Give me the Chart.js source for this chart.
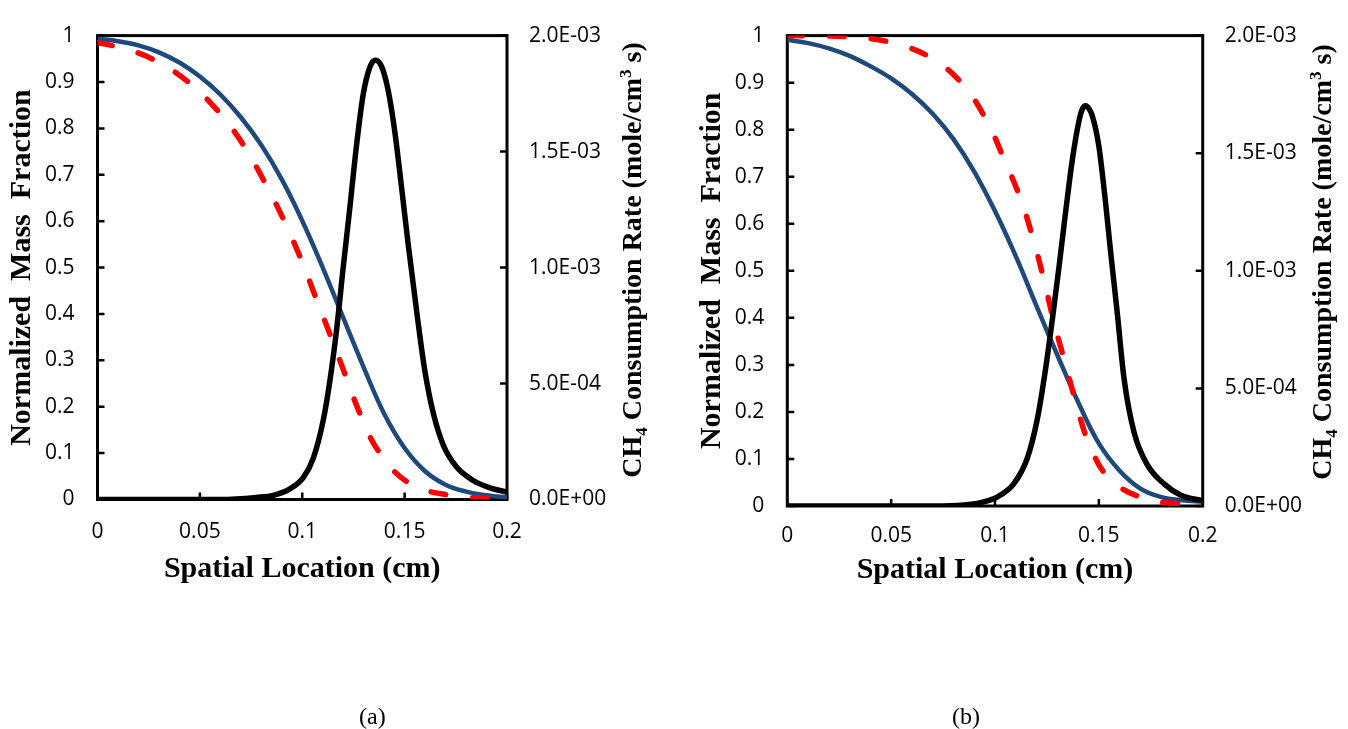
<!DOCTYPE html>
<html>
<head>
<meta charset="utf-8">
<title>Mass fraction and CH4 consumption profiles</title>
<script src="https://cdn.jsdelivr.net/npm/chart.js@4.4.0/dist/chart.umd.min.js"></script>
<style>
  body { margin: 0; width: 1348px; height: 729px; background: #fff; position: relative; overflow: hidden; }
  .panel { position: absolute; top: 0; width: 674px; height: 729px; }
  .caption { position: absolute; top: 702px; font: 24px/28px 'Liberation Serif', 'Times New Roman', serif; color: #000; }
</style>
</head>
<body>
<div class="panel" style="left:0"><canvas id="chartA" width="674" height="729"></canvas></div>
<div class="panel" style="left:674px"><canvas id="chartB" width="674" height="729"></canvas></div>
<div class="caption" style="left:359px">(a)</div>
<div class="caption" style="left:952px">(b)</div>
<script>
// ---- case (a) ----
const aBlueX = [0, 0.01, 0.02, 0.03, 0.04, 0.05, 0.06, 0.07, 0.08, 0.09, 0.1, 0.11, 0.12, 0.13, 0.14, 0.15, 0.16, 0.17, 0.18, 0.19, 0.2];
const aBlueY = [0.993, 0.988, 0.979, 0.964, 0.942, 0.912, 0.873, 0.824, 0.764, 0.690, 0.601, 0.500, 0.392, 0.285, 0.185, 0.111, 0.061, 0.032, 0.017, 0.009, 0.0045];

const aRedX = [0, 0.0102, 0.0256, 0.0435, 0.0587, 0.071, 0.0813, 0.0907, 0.0997, 0.1062, 0.1138, 0.121, 0.1285, 0.1376, 0.152, 0.172, 0.193, 0.2];
const aRedY = [0.985, 0.975, 0.952, 0.903, 0.838, 0.766, 0.687, 0.605, 0.515, 0.440, 0.353, 0.269, 0.182, 0.102, 0.036, 0.009, 0.002, 0.001];

const aRateX = [0, 0.06, 0.0777, 0.0859, 0.094, 0.1005, 0.1054, 0.1103, 0.1135, 0.1168, 0.12, 0.1233, 0.1265, 0.1298, 0.1331, 0.1358, 0.1388, 0.142, 0.1453, 0.1485, 0.1518, 0.1566, 0.1599, 0.164, 0.1689, 0.1754, 0.1835, 0.1917, 0.2];
const aRateY = [0, 0, 0.009e-3, 0.018e-3, 0.046e-3, 0.094e-3, 0.178e-3, 0.344e-3, 0.512e-3, 0.734e-3, 1.0e-3, 1.262e-3, 1.526e-3, 1.748e-3, 1.866e-3, 1.894e-3, 1.866e-3, 1.762e-3, 1.58e-3, 1.346e-3, 1.096e-3, 0.762e-3, 0.554e-3, 0.372e-3, 0.234e-3, 0.14e-3, 0.082e-3, 0.05e-3, 0.032e-3];

// ---- case (b) ----
const bBlueX = [0, 0.01, 0.02, 0.03, 0.04, 0.05, 0.06, 0.07, 0.08, 0.09, 0.1, 0.11, 0.12, 0.13, 0.14, 0.15, 0.16, 0.17, 0.18, 0.19, 0.2];
const bBlueY = [0.991, 0.984, 0.973, 0.957, 0.935, 0.909, 0.876, 0.834, 0.780, 0.711, 0.627, 0.531, 0.425, 0.321, 0.221, 0.133, 0.075, 0.037, 0.019, 0.012, 0.009];

const bRedX = [0, 0.015, 0.03, 0.0495, 0.0695, 0.0849, 0.0962, 0.1045, 0.1122, 0.1183, 0.1237, 0.1283, 0.1335, 0.1388, 0.145, 0.155, 0.1727, 0.194, 0.2];
const bRedY = [1.0, 0.9995, 0.997, 0.986, 0.952, 0.894, 0.817, 0.736, 0.654, 0.569, 0.478, 0.392, 0.308, 0.223, 0.136, 0.059, 0.015, 0.003, 0.001];

const bRateX = [0, 0.07, 0.085, 0.093, 0.101, 0.109, 0.1155, 0.1203, 0.1243, 0.128, 0.131, 0.134, 0.1372, 0.1404, 0.142, 0.1436, 0.1452, 0.1468, 0.15, 0.1533, 0.1557, 0.1589, 0.1621, 0.167, 0.1733, 0.1814, 0.1895, 0.2];
const bRateY = [0, 0, 0.004e-3, 0.014e-3, 0.038e-3, 0.094e-3, 0.202e-3, 0.366e-3, 0.58e-3, 0.82e-3, 1.03e-3, 1.25e-3, 1.47e-3, 1.636e-3, 1.686e-3, 1.702e-3, 1.69e-3, 1.66e-3, 1.53e-3, 1.284e-3, 1.078e-3, 0.818e-3, 0.544e-3, 0.312e-3, 0.176e-3, 0.094e-3, 0.046e-3, 0.022e-3];

// ---- axes ----
const xTicks = [0, 0.05, 0.1, 0.15, 0.2];
const fracTicks = [0, 0.1, 0.2, 0.3, 0.4, 0.5, 0.6, 0.7, 0.8, 0.9, 1];
const rateTicks = [0, 5e-4, 1e-3, 1.5e-3, 2e-3];

const xTitle = 'Spatial Location (cm)';
const fracTitle = 'Normalized  Mass  Fraction';
// right-hand title, drawn piece by piece for the sub/superscripts
const rateTitleParts = [
  { text: 'CH' },
  { text: '4', shift: 'sub' },
  { text: ' Consumption Rate (mole/cm' },
  { text: '3', shift: 'sup' },
  { text: ' s)' }
];

const serif = "'Liberation Serif', 'Times New Roman', serif";
const sans = "'Open Sans', sans-serif";
const tickFont = { family: sans, size: 21 };

function pts(xs, ys) {
  return xs.map((x, i) => ({ x, y: ys[i] }));
}

// 5.0E-04 style labels
function sci(v) {
  const [m, e] = v.toExponential(1).split('e');
  const n = parseInt(e, 10);
  return m + 'E' + (n < 0 ? '-' : '+') + String(Math.abs(n)).padStart(2, '0');
}

// box around the plot area plus inward tick marks
const axesFrame = {
  id: 'axesFrame',
  beforeDatasetsDraw(chart) {
    const { ctx, chartArea: a, scales } = chart;
    const len = 7;
    ctx.save();
    ctx.strokeStyle = '#000';
    ctx.lineWidth = 3;
    ctx.strokeRect(a.left, a.top, a.right - a.left, a.bottom - a.top);
    ctx.lineWidth = 2.5;
    ctx.beginPath();
    scales.x.ticks.forEach(t => {
      const p = scales.x.getPixelForValue(t.value);
      ctx.moveTo(p, a.bottom); ctx.lineTo(p, a.bottom - len);
    });
    scales.y.ticks.forEach(t => {
      const p = scales.y.getPixelForValue(t.value);
      ctx.moveTo(a.left, p); ctx.lineTo(a.left + len, p);
    });
    scales.y2.ticks.forEach(t => {
      const p = scales.y2.getPixelForValue(t.value);
      ctx.moveTo(a.right, p); ctx.lineTo(a.right - len, p);
    });
    ctx.stroke();
    ctx.restore();
  }
};

// rotated title on the rate axis, reading bottom to top
const rateTitle = {
  id: 'rateTitle',
  afterDraw(chart, args, opts) {
    const { ctx } = chart;
    const size = opts.size;
    const big = `bold ${size}px ${serif}`;
    const little = `bold ${Math.round(size * 0.62)}px ${serif}`;
    ctx.save();
    ctx.translate(opts.x, opts.y);
    ctx.rotate(-Math.PI / 2);
    let total = 0;
    const widths = rateTitleParts.map(p => {
      ctx.font = p.shift ? little : big;
      const w = ctx.measureText(p.text).width;
      total += w;
      return w;
    });
    let cx = -total / 2;
    const base = size * 0.33;
    ctx.fillStyle = '#000';
    ctx.textBaseline = 'alphabetic';
    rateTitleParts.forEach((p, i) => {
      ctx.font = p.shift ? little : big;
      const dy = p.shift === 'sub' ? size * 0.2 : p.shift === 'sup' ? -size * 0.38 : 0;
      ctx.fillText(p.text, cx, base + dy);
      cx += widths[i];
    });
    ctx.restore();
  }
};

function buildChart(id, blueX, blueY, redX, redY, rateX, rateY, geo) {
  return new Chart(document.getElementById(id), {
    type: 'line',
    data: {
      datasets: [
        { data: pts(rateX, rateY), yAxisID: 'y2', borderColor: '#000', borderWidth: 5.5, cubicInterpolationMode: 'monotone' },
        { data: pts(redX, redY), yAxisID: 'y', borderColor: '#FF0000', borderWidth: 5.5, borderDash: [15, 27], borderCapStyle: 'round' },
        { data: pts(blueX, blueY), yAxisID: 'y', borderColor: '#1F497D', borderWidth: 4.5 }
      ]
    },
    options: {
      responsive: false,
      animation: false,
      layout: { padding: { top: geo.top, left: 0, right: 0, bottom: 0 } },
      elements: {
        point: { radius: 0 },
        line: { tension: 0.4, borderJoinStyle: 'round', fill: false }
      },
      plugins: {
        legend: { display: false },
        tooltip: { enabled: false },
        rateTitle: { x: geo.rateTitleX, y: geo.rateTitleY, size: 28 }
      },
      scales: {
        x: {
          type: 'linear', min: 0, max: 0.2,
          grid: { display: false, drawTicks: false },
          border: { display: false },
          afterBuildTicks: s => { s.ticks = xTicks.map(v => ({ value: v })); },
          afterFit: s => { s.height = geo.bottom; },
          ticks: { font: tickFont, color: '#000', padding: geo.xPad, maxRotation: 0, autoSkip: false,
                   callback: v => String(+v.toFixed(2)) },
          title: { display: true, text: xTitle, color: '#000',
                   font: { family: serif, size: 30, weight: 'bold' },
                   padding: { top: 0, bottom: geo.xTitlePad } }
        },
        y: {
          type: 'linear', position: 'left', min: 0, max: 1,
          grid: { display: false, drawTicks: false },
          border: { display: false },
          afterBuildTicks: s => { s.ticks = fracTicks.map(v => ({ value: v })); },
          afterFit: s => { s.width = geo.left; },
          ticks: { font: tickFont, color: '#000', padding: 23, autoSkip: false,
                   callback: v => String(+v.toFixed(1)) },
          title: { display: true, text: fracTitle, color: '#000',
                   font: { family: serif, size: 30, weight: 'bold' },
                   padding: { top: geo.fracTitlePad, bottom: 0 } }
        },
        y2: {
          type: 'linear', position: 'right', min: 0, max: 2e-3,
          grid: { display: false, drawTicks: false },
          border: { display: false },
          afterBuildTicks: s => { s.ticks = rateTicks.map(v => ({ value: v })); },
          afterFit: s => { s.width = geo.right; },
          ticks: { font: tickFont, color: '#000', padding: 22, autoSkip: false, callback: v => sci(v) }
        }
      }
    },
    plugins: [axesFrame, rateTitle]
  });
}

buildChart('chartA', aBlueX, aBlueY, aRedX, aRedY, aRateX, aRateY, {
  top: 19.5, left: 97.5, right: 167, bottom: 229.5,
  xPad: 20, xTitlePad: 142, fracTitlePad: 4.5,
  rateTitleX: 632, rateTitleY: 260
});

buildChart('chartB', bBlueX, bBlueY, bRedX, bRedY, bRateX, bRateY, {
  top: 19, left: 113.3, right: 145.3, bottom: 223,
  xPad: 17, xTitlePad: 141, fracTitlePad: 20,
  rateTitleX: 648, rateTitleY: 262
});
</script>
</body>
</html>
